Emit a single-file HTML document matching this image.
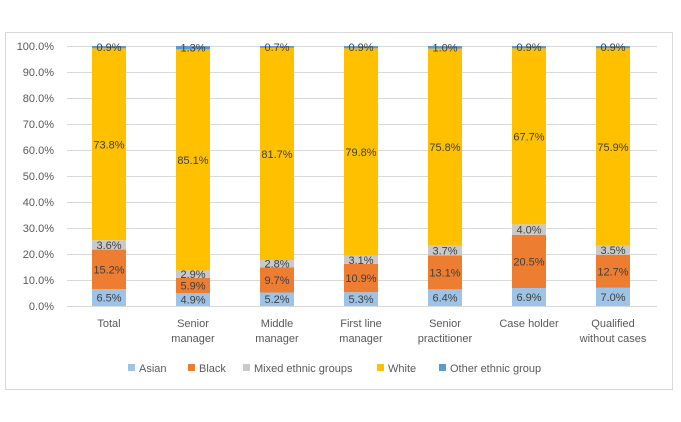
<!DOCTYPE html>
<html><head><style>
body{margin:0;background:#fff;}
svg{display:block;font-family:"Liberation Sans",Arial,sans-serif;}
</style></head><body>
<svg width="681" height="422" xmlns="http://www.w3.org/2000/svg">
<rect x="5.5" y="32.5" width="667" height="357" fill="#fff" stroke="#d9d9d9"/>
<g stroke="#d9d9d9" stroke-width="1">
<line x1="67" x2="657" y1="46.5" y2="46.5"/>
<line x1="67" x2="657" y1="72.5" y2="72.5"/>
<line x1="67" x2="657" y1="98.5" y2="98.5"/>
<line x1="67" x2="657" y1="124.5" y2="124.5"/>
<line x1="67" x2="657" y1="150.5" y2="150.5"/>
<line x1="67" x2="657" y1="176.5" y2="176.5"/>
<line x1="67" x2="657" y1="202.5" y2="202.5"/>
<line x1="67" x2="657" y1="228.5" y2="228.5"/>
<line x1="67" x2="657" y1="254.5" y2="254.5"/>
<line x1="67" x2="657" y1="280.5" y2="280.5"/>
<line x1="67" x2="657" y1="306.5" y2="306.5"/>
</g>
<g font-size="11" fill="#595959" text-anchor="end">
<text x="54" y="50">100.0%</text><text x="54" y="76">90.0%</text><text x="54" y="102">80.0%</text>
<text x="54" y="128">70.0%</text><text x="54" y="154">60.0%</text><text x="54" y="180">50.0%</text>
<text x="54" y="206">40.0%</text><text x="54" y="232">30.0%</text><text x="54" y="258">20.0%</text>
<text x="54" y="284">10.0%</text><text x="54" y="310">0.0%</text>
</g>
<g id="bars"></g>
<g font-size="11" fill="#595959" text-anchor="middle">
<text x="109" y="327">Total</text>
<text x="193" y="327">Senior</text><text x="193" y="342">manager</text>
<text x="277" y="327">Middle</text><text x="277" y="342">manager</text>
<text x="361" y="327">First line</text><text x="361" y="342">manager</text>
<text x="445" y="327">Senior</text><text x="445" y="342">practitioner</text>
<text x="529" y="327">Case holder</text>
<text x="613" y="327">Qualified</text><text x="613" y="342">without cases</text>
</g>
<g font-size="11" fill="#595959">
<rect x="128" y="364" width="7" height="7" fill="#9DC3E6"/><text x="139" y="372">Asian</text>
<rect x="188" y="364" width="7" height="7" fill="#ED7D31"/><text x="199" y="372">Black</text>
<rect x="243" y="364" width="7" height="7" fill="#C9C9C9"/><text x="254" y="372">Mixed ethnic groups</text>
<rect x="377" y="364" width="7" height="7" fill="#FFC000"/><text x="388" y="372">White</text>
<rect x="439" y="364" width="7" height="7" fill="#5B9BD5"/><text x="450" y="372">Other ethnic group</text>
</g>
</svg>
<script>
var d=[[6.5,15.2,3.6,73.8,0.9],[4.9,5.9,2.9,85.1,1.3],[5.2,9.7,2.8,81.7,0.7],[5.3,10.9,3.1,79.8,0.9],[6.4,13.1,3.7,75.8,1.0],[6.9,20.5,4.0,67.7,0.9],[7.0,12.7,3.5,75.9,0.9]];
var c=["#9DC3E6","#ED7D31","#C9C9C9","#FFC000","#5B9BD5"];
var g=document.getElementById('bars'),ns="http://www.w3.org/2000/svg",s="";
d.forEach(function(r,i){var cx=109+84*i,cum=0;var tot=r.reduce(function(a,b){return a+b},0);
r.forEach(function(v,j){var vv=v*100/tot;var y1=306-cum*2.6,h=vv*2.6;cum+=vv;
s+='<rect x="'+(cx-17)+'" y="'+(y1-h)+'" width="34" height="'+h+'" fill="'+c[j]+'"/>';
s+='<text x="'+cx+'" y="'+(y1-h/2+4)+'" font-size="11" fill="#404040" text-anchor="middle">'+v.toFixed(1)+'%</text>';});});
g.innerHTML=s;
</script>
</body></html>
